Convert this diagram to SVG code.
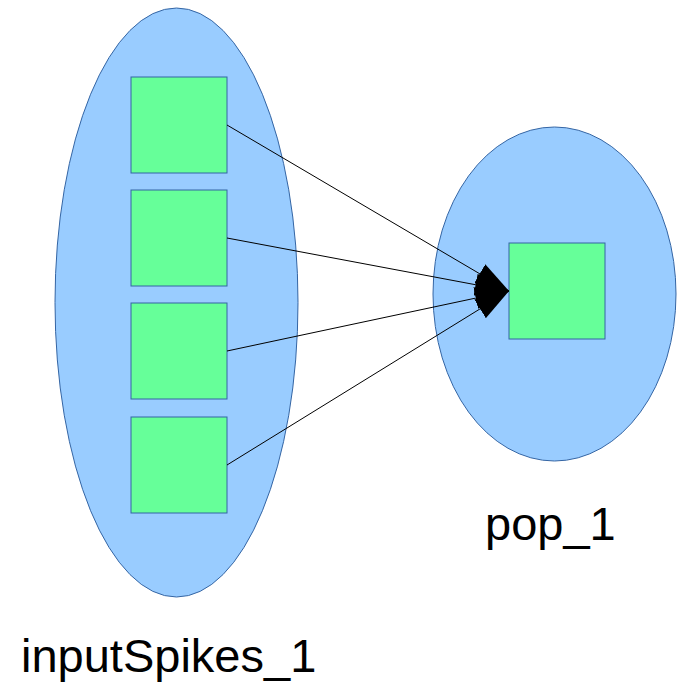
<svg xmlns="http://www.w3.org/2000/svg" width="677" height="684" viewBox="0 0 677 684">
<defs>
<style>
.pop{fill:#99ccff;stroke:#3465a4;stroke-width:1}
.cell{fill:#66ff99;stroke:#3465a4;stroke-width:1}
.conn{stroke:#000;stroke-width:1;fill:none;marker-end:url(#ah)}
.lbl{font-family:"Liberation Sans",Arial,sans-serif;font-size:47px;fill:#000}
</style>
<marker id="ah" markerUnits="userSpaceOnUse" viewBox="0 -11 34 22" markerWidth="34" markerHeight="22" refX="34" refY="0" orient="auto">
<path d="M0,-11 L34,0 L0,11 z" fill="#000"/>
</marker>
</defs>
<g id="inputSpikes_1">
<ellipse class="pop" cx="176.5" cy="302.5" rx="121.5" ry="294.5"/>
<rect class="cell" x="131" y="77" width="96" height="96"/>
<rect class="cell" x="131" y="190" width="96" height="96"/>
<rect class="cell" x="131" y="303" width="96" height="96"/>
<rect class="cell" x="131" y="417" width="96" height="96"/>
<text class="lbl" x="21" y="672">inputSpikes_1</text>
</g>
<g id="pop_1">
<ellipse class="pop" cx="554.5" cy="294" rx="121.5" ry="167"/>
<rect class="cell" x="509" y="243" width="96" height="96"/>
<text class="lbl" x="485" y="540">pop_1</text>
</g>
<g id="connectors">
<line class="conn" x1="227" y1="125" x2="509" y2="291"/>
<line class="conn" x1="227" y1="238" x2="509" y2="291"/>
<line class="conn" x1="227" y1="351" x2="509" y2="291"/>
<line class="conn" x1="227" y1="465" x2="509" y2="291"/>
</g>
</svg>
